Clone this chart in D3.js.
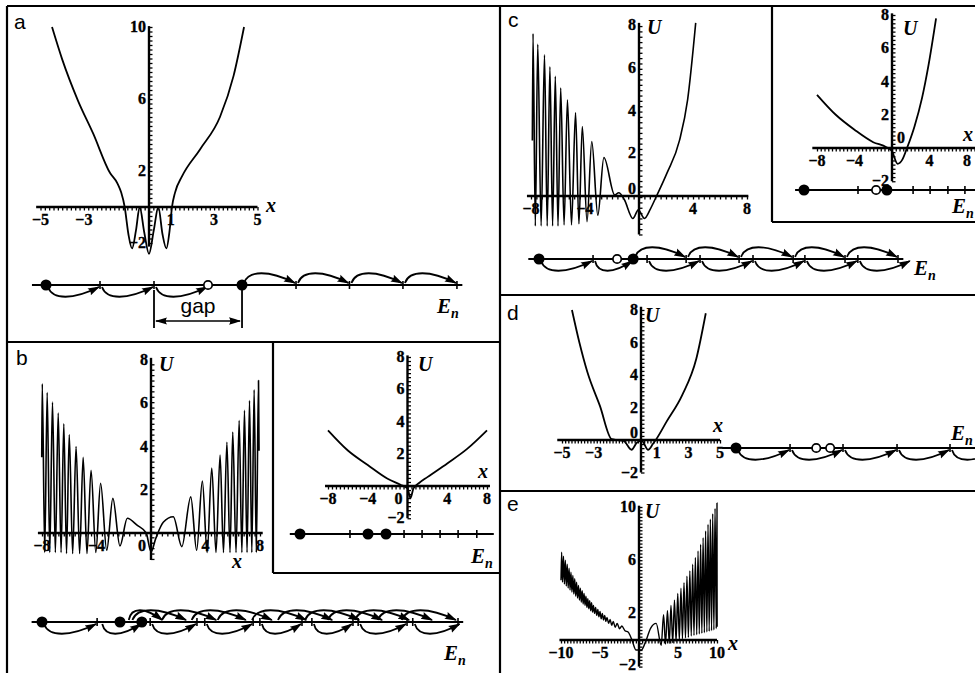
<!DOCTYPE html>
<html><head><meta charset="utf-8">
<script src="https://cdn.jsdelivr.net/npm/d3@7"></script>
<style>
body{margin:0;background:#fff}
svg{display:block;background:#fff}
.tl{font-family:"Liberation Serif","DejaVu Serif",serif;font-weight:bold;font-size:16px;stroke:#000;stroke-width:0.35px}
.var{font-family:"Liberation Serif","DejaVu Serif",serif;font-style:italic;font-weight:bold;font-size:20px}
.pl{font-family:"Liberation Sans",Arial,sans-serif;font-size:21px}
</style></head><body>
<svg id="fig" width="975" height="673"></svg>
<script>
// ---------------- DATA ----------------
// Potential curves U(x): [x, U]
const curveA = [[-4.47,10],[-4.0,8.2],[-3.27,5.9],[-2.58,4.1],[-1.8,1.9],[-1.45,1.3],[-1.28,0.8],[-1.12,0],[-0.95,-1.5],[-0.78,-2.3],[-0.6,-1.3],[-0.43,0],[-0.22,-1.4],[0,-2.6],[0.22,-1.3],[0.43,0],[0.62,-1.5],[0.8,-2.3],[0.95,-1.3],[1.06,0],[1.2,0.8],[1.52,1.7],[2.35,3.2],[3.27,5.0],[3.9,7.3],[4.38,10]];
const curveB = [[-8.02,3.5],[-7.98,6.9],[-7.8,-0.9],[-7.62,6.5],[-7.43,-0.9],[-7.23,6.05],[-7.02,-0.9],[-6.81,5.55],[-6.6,-0.9],[-6.4,5.05],[-6.2,-0.95],[-6.0,4.55],[-5.75,-0.95],[-5.5,4.0],[-5.24,-0.95],[-4.98,3.5],[-4.7,-0.95],[-4.4,2.9],[-4.05,-0.9],[-3.7,2.3],[-3.25,-0.8],[-2.8,1.6],[-2.28,-0.6],[-1.74,0.68],[-1.0,0.35],[-0.35,0.0],[0,-0.87],[0.35,-0.25],[0.9,0.5],[1.64,0.75],[2.26,-0.63],[2.92,1.67],[3.35,-0.8],[3.77,2.4],[4.12,-0.9],[4.46,3.0],[4.77,-0.9],[5.07,3.6],[5.32,-0.9],[5.57,4.2],[5.8,-0.9],[6.0,4.67],[6.24,-0.9],[6.47,5.2],[6.67,-0.9],[6.86,5.67],[7.05,-0.9],[7.23,6.13],[7.4,-0.9],[7.57,6.62],[7.73,-0.9],[7.89,7.05],[7.93,3.8]];
const curveBInset = [[-8,3.45],[-6,2.2],[-4,1.3],[-2,0.45],[-0.7,0.08],[0,-0.15],[0.3,-0.75],[0.6,-0.15],[1.2,0.2],[2,0.55],[4,1.4],[6,2.3],[8,3.45]];
const curveC = [[-7.9,2.6],[-7.85,7.6],[-7.68,-1.4],[-7.5,7.1],[-7.25,-1.4],[-7.0,6.6],[-6.8,-1.4],[-6.6,6.05],[-6.4,-1.4],[-6.2,5.6],[-6.0,-1.4],[-5.8,5.05],[-5.55,-1.35],[-5.3,4.5],[-5.0,-1.35],[-4.7,3.9],[-4.45,-1.3],[-4.2,3.25],[-3.85,-1.2],[-3.5,2.55],[-3.05,-0.9],[-2.6,1.8],[-1.8,0.05],[-1.5,0.15],[-1.1,-0.15],[-0.45,-1.05],[-0.05,-0.65],[0.4,-1.05],[0.85,-0.6],[1.3,0],[2.07,1.07],[3.0,2.6],[3.6,4.5],[4.2,8.1]];
const curveCInset = [[-8,3.2],[-6,2.0],[-4,1.1],[-2,0.35],[-0.6,0.05],[0,-0.2],[0.6,-0.95],[1.1,-0.7],[1.6,0],[2.4,1.3],[3.2,3.0],[3.9,5.0],[4.7,7.8]];
const curveD = [[-4.37,8],[-3.9,6.0],[-3.4,4.2],[-2.6,2.1],[-1.85,0.05],[-1.5,0],[-1.1,-0.05],[-0.6,-0.6],[-0.25,-0.15],[0.05,-0.05],[0.45,-0.6],[0.75,-0.25],[1.0,0.1],[1.6,1.1],[2.6,2.75],[3.5,5.0],[4.1,7.8]];
const curveE = [[-10,4.5],[-9.92,6.6],[-9.8,4.35],[-9.68,6.3],[-9.56,4.2],[-9.44,6.0],[-9.32,4.05],[-9.2,5.7],[-9.08,3.9],[-8.96,5.4],[-8.84,3.75],[-8.72,5.1],[-8.6,3.6],[-8.48,4.85],[-8.36,3.45],[-8.24,4.6],[-8.12,3.3],[-8.0,4.35],[-7.88,3.15],[-7.76,4.1],[-7.64,3.0],[-7.52,3.9],[-7.4,2.85],[-7.28,3.7],[-7.16,2.7],[-7.04,3.5],[-6.92,2.6],[-6.8,3.3],[-6.68,2.45],[-6.56,3.1],[-6.44,2.35],[-6.32,2.95],[-6.2,2.2],[-6.08,2.8],[-5.96,2.1],[-5.84,2.6],[-5.7,2.0],[-5.56,2.45],[-5.42,1.85],[-5.28,2.3],[-5.14,1.75],[-5.0,2.15],[-4.85,1.6],[-4.7,2.0],[-4.55,1.5],[-4.4,1.85],[-4.25,1.4],[-4.1,1.7],[-3.9,1.25],[-3.7,1.55],[-3.5,1.1],[-3.3,1.4],[-3.05,0.95],[-2.8,1.25],[-2.5,0.85],[-2.2,1.05],[-1.8,0.7],[-1.4,0.6],[-0.9,0.0],[-0.4,-0.75],[0.3,-0.75],[0.8,-0.2],[1.5,0.9],[2.2,1.25],[2.85,-0.4],[3.15,1.9],[3.4,-0.3],[3.65,2.2],[3.88,-0.25],[4.1,2.6],[4.32,-0.2],[4.55,3.0],[4.75,-0.1],[4.97,3.5],[5.17,0.0],[5.38,3.9],[5.57,0.1],[5.77,4.3],[5.96,0.15],[6.15,4.8],[6.33,0.2],[6.52,5.2],[6.7,0.3],[6.88,5.7],[7.05,0.35],[7.23,6.2],[7.4,0.4],[7.57,6.7],[7.73,0.45],[7.9,7.2],[8.06,0.5],[8.22,7.7],[8.38,0.55],[8.54,8.2],[8.7,0.6],[8.85,8.7],[9.0,0.65],[9.15,9.1],[9.3,0.7],[9.45,9.5],[9.6,0.75],[9.75,9.9],[9.9,0.85],[10.0,10.3],[10.02,1.0]];

// Tick labels
const aXTicks = [-5,-3,1,3,5], aYTicks = [10,6,2,-2];
const bXTicks = [-8,-4,4,8],   bYTicks = [8,6,4,2];
const biXTicks = [-8,-4,4,8],  biYTicks = [8,6,4,2,-2];
const cXTicks = [-8,-4,4,8],   cYTicks = [8,6,4,2,0];
const ciXTicks = [-8,-4,4,8],  ciYTicks = [8,6,4,2,-2];
const dXTicks = [-5,-3,1,3,5], dYTicks = [8,6,4,2,0,-2];
const eXTicks = [-10,-5,5,10], eYTicks = [10,6,2,-2];

// Energy-level schemes (level units)
const aLevTicks=[1,2,4.63,5.62,6.61,7.61], aFilled=[0,3.63], aOpen=[3];
const aBelow=[[0,1],[1,2],[2,3]], aAbove=[[3.63,4.63],[4.63,5.62],[5.62,6.61],[6.61,7.61]];
const aGap=[2,3.63];
const bLevTicks=[1.06,2.08,2.98,3.13,4.06,4.19,5.0,5.19,5.98,6.08,7.02,7.13,8.0], bFilled=[0,1.5,1.92], bOpen=[];
const bBelow=[[0,1.06],[1.12,1.92],[2.08,2.98],[3.13,4.06],[4.19,5.0],[5.19,5.98],[6.08,7.02],[7.13,8.05]];
const bAbove=[[1.63,2.33],[1.7,2.79],[2.27,3.37],[2.84,3.94],[3.34,4.44],[4.0,5.1],[4.5,5.6],[5.02,6.12],[5.46,6.56],[5.98,7.08],[6.42,7.52],[6.88,7.98]];
const biLevTicks=[1.47,3.06,3.59,4.12,4.65,5.2], biFilled=[0,2.0,2.53], biOpen=[];
const cLevTicks=[1.01,2.02,2.75,3.01,3.74,4.0,4.75,4.97,5.72,5.96,6.71], cFilled=[0,1.76], cOpen=[1.46];
const cBelow=[[0,1.01],[1.01,1.76],[2.02,3.01],[3.01,4.0],[4.0,4.97],[4.97,5.96],[5.96,6.95]];
const cAbove=[[1.76,2.75],[2.75,3.74],[3.74,4.75],[4.75,5.72],[5.72,6.71]];
const ciLevTicks=[2.0,4.04,4.67,5.33,5.96], ciFilled=[0,3.07], ciOpen=[2.67];
const dLevTicks=[1.01,2.0,3.01,4.0], dFilled=[0], dOpen=[1.5,1.76];
const dBelow=[[0,1.01],[1.01,2.0],[2.0,3.01],[3.01,4.0],[4.0,4.9]];

// ---------------- DRAWING ----------------
const svg = d3.select("#fig");
const defs = svg.append("defs");
defs.append("marker").attr("id","ah").attr("viewBox","0 -5 12 10").attr("refX",11).attr("refY",0)
  .attr("markerWidth",12).attr("markerHeight",10).attr("markerUnits","userSpaceOnUse").attr("orient","auto")
  .append("path").attr("d","M0,-3.8 Q6,-2 12,0 Q6,2 0,3.8 Q2.5,0 0,-3.8Z").attr("fill","#000");
defs.append("marker").attr("id","ahs").attr("viewBox","0 -5 12 10").attr("refX",1).attr("refY",0)
  .attr("markerWidth",12).attr("markerHeight",10).attr("markerUnits","userSpaceOnUse").attr("orient","auto")
  .append("path").attr("d","M12,-3.5 Q6,-1.8 0,0 Q6,1.8 12,3.5 Q9.5,0 12,-3.5Z").attr("fill","#000");

const fmt = v => (v < 0 ? "\u2212" + Math.abs(v) : String(v));

function drawPlot(c) {
  const g = svg.append("g");
  const x = d3.scaleLinear().domain(c.xd).range(c.xr);
  const y = d3.scaleLinear().domain(c.yd).range(c.yr);
  const y0 = y(0), x0 = x(0);
  // minor ticks through d3 axes
  g.append("g").attr("transform",`translate(0,${y0})`)
    .call(d3.axisBottom(x).tickValues(d3.range(c.xm[0], c.xm[1]+1e-9, c.xm[2])).tickSize(3.5).tickSizeOuter(0).tickFormat(""))
    .call(s=>{s.select(".domain").remove(); s.selectAll("line").attr("stroke-width",1.3);});
  g.append("g").attr("transform",`translate(${x0},0)`)
    .call(d3.axisRight(y).tickValues(d3.range(c.ym[0], c.ym[1]+1e-9, c.ym[2])).tickSize(3.5).tickSizeOuter(0).tickFormat(""))
    .call(s=>{s.select(".domain").remove(); s.selectAll("line").attr("stroke-width",1.3);});
  // axis lines
  g.append("line").attr("x1",x(c.xl[0])).attr("x2",x(c.xl[1])).attr("y1",y0).attr("y2",y0).attr("stroke","#000").attr("stroke-width",2.4);
  g.append("line").attr("x1",x0).attr("x2",x0).attr("y1",y(c.yl[0])).attr("y2",y(c.yl[1])).attr("stroke","#000").attr("stroke-width",2.4);
  // major tick labels
  g.selectAll(null).data(c.xt).enter().append("text").attr("class","tl")
    .attr("x",d=>x(d)).attr("y",y0+18).attr("text-anchor","middle").text(fmt);
  g.selectAll(null).data(c.yt).enter().append("text").attr("class","tl")
    .attr("x",x0-3).attr("y",d=>Math.min(y(d)+5 + (d===0?-7:0), 670)).attr("text-anchor","end").text(fmt);
  if (c.zeroX) g.append("text").attr("class","tl").attr("x",x0+c.zeroX[0]).attr("y",y0+c.zeroX[1]).attr("text-anchor","middle").text("0");
  // curve
  g.append("path").datum(c.data).attr("fill","none").attr("stroke","#000").attr("stroke-width",c.sw||1.8)
    .attr("stroke-linejoin","round")
    .attr("d", d3.line().x(d=>x(d[0])).y(d=>y(d[1])).curve(d3.curveMonotoneX));
  // variable labels
  if (c.U) g.append("text").attr("class","var").attr("x",c.U[0]).attr("y",c.U[1]).text("U");
  if (c.X) g.append("text").attr("class","var").attr("x",c.X[0]).attr("y",c.X[1]).text("x");
  return {x,y};
}

function drawLevels(c) {
  const g = svg.append("g");
  const e = d3.scaleLinear().domain([0,1]).range([c.x0, c.x0 + c.unit]);
  const y = c.y;
  g.append("line").attr("x1",e(c.line[0])).attr("x2",e(c.line[1])).attr("y1",y).attr("y2",y).attr("stroke","#000").attr("stroke-width",2);
  g.selectAll(null).data(c.ticks).enter().append("line")
    .attr("x1",d=>e(d)).attr("x2",d=>e(d)).attr("y1",y-4).attr("y2",y+4).attr("stroke","#000").attr("stroke-width",1.6);
  const arc = (a,b,s) => {
    const x1=e(a), x2=e(b), w=x2-x1, h=s*15;
    const p = d3.path();
    p.moveTo(x1+2, y+s*2);
    p.bezierCurveTo(x1+0.12*w, y+h, x2-0.5*w, y+h, x2-1, y+s*2);
    return p.toString();
  };
  g.selectAll(null).data(c.below||[]).enter().append("path").attr("d",d=>arc(d[0],d[1],1))
    .attr("fill","none").attr("stroke","#000").attr("stroke-width",1.8).attr("marker-end","url(#ah)");
  g.selectAll(null).data(c.above||[]).enter().append("path").attr("d",d=>arc(d[0],d[1],-1))
    .attr("fill","none").attr("stroke","#000").attr("stroke-width",1.8).attr("marker-end","url(#ah)");
  g.selectAll(null).data(c.filled).enter().append("circle").attr("cx",d=>e(d)).attr("cy",y).attr("r",5.5).attr("fill","#000");
  g.selectAll(null).data(c.open).enter().append("circle").attr("cx",d=>e(d)).attr("cy",y).attr("r",4.2).attr("fill","#fff").attr("stroke","#000").attr("stroke-width",1.7);
  if (c.E) {
    const t = g.append("text").attr("class","var").attr("x",c.E[0]).attr("y",c.E[1]).style("font-size","21px");
    t.append("tspan").text("E");
    t.append("tspan").attr("dy",5).style("font-size","14px").text("n");
  }
  return e;
}

// Panel frames
const frame = [[7,6,975,6],[7,6,7,673],[500,6,500,673],[7,342,500,342],[500,295,975,295],[500,491,975,491],
               [273,342,273,573],[273,573,500,573],[772,6,772,222],[772,222,975,222]];
svg.selectAll(null).data(frame).enter().append("line")
  .attr("x1",d=>d[0]).attr("y1",d=>d[1]).attr("x2",d=>d[2]).attr("y2",d=>d[3]).attr("stroke","#000").attr("stroke-width",2.2);

// Panel letters
[["a",14,29],["b",16,365],["c",508,27],["d",507,320],["e",507,511]].forEach(d=>{
  svg.append("text").attr("class","pl").attr("x",d[1]).attr("y",d[2]).text(d[0]);
});

// ---- Panel a ----
drawPlot({data:curveA, xd:[-5,5], xr:[40.5,257.5], yd:[0,10], yr:[207,27],
  xm:[-5,5,0.2], ym:[-2,10,0.25], xl:[-5.2,5.0], yl:[-2.2,10.05],
  xt:aXTicks, yt:aYTicks, X:[266,212]});
const eA = drawLevels({x0:46, unit:54, y:285, line:[-0.26,7.71], ticks:aLevTicks, filled:aFilled, open:aOpen,
  below:aBelow, above:aAbove, E:[437,313]});
// gap bracket
{
  const g = svg.append("g");
  g.selectAll(null).data(aGap).enter().append("line").attr("x1",d=>eA(d)).attr("x2",d=>eA(d)).attr("y1",290).attr("y2",328)
    .attr("stroke","#000").attr("stroke-width",1.8);
  g.append("line").attr("x1",eA(aGap[0])+2).attr("x2",eA(aGap[1])-2).attr("y1",321).attr("y2",321)
    .attr("stroke","#000").attr("stroke-width",1.6).attr("marker-end","url(#ah)").attr("marker-start","url(#ahs)");
  g.append("text").attr("class","pl").attr("x",(eA(aGap[0])+eA(aGap[1]))/2).attr("y",313).attr("text-anchor","middle").text("gap");
}

// ---- Panel b ----
drawPlot({data:curveB, xd:[-8,8], xr:[42,260], yd:[0,8], yr:[533,360], sw:1.6,
  xm:[-8,8,0.4], ym:[-1.2,8,0.25], xl:[-8.3,8.2], yl:[-1.25,8.1],
  xt:bXTicks, yt:bYTicks, zeroX:[-9,18], U:[159,371], X:[232,568]});
drawLevels({x0:42, unit:52, y:622, line:[-0.2,8.1], ticks:bLevTicks, filled:bFilled, open:bOpen,
  below:bBelow, above:bAbove, E:[444,660]});
// inset b
drawPlot({data:curveBInset, xd:[-8,8], xr:[328,487], yd:[0,8], yr:[486,357],
  xm:[-8,8,0.4], ym:[-2,8,0.25], xl:[-8.3,8.3], yl:[-2,8.1],
  xt:biXTicks, yt:biYTicks, zeroX:[-9,18], U:[418,371], X:[478,478]});
drawLevels({x0:300, unit:34, y:534, line:[-0.3,5.7], ticks:biLevTicks, filled:biFilled, open:biOpen, E:[471,563]});

// ---- Panel c ----
drawPlot({data:curveC, xd:[-8,8], xr:[531,747], yd:[0,8], yr:[196,25], sw:1.6,
  xm:[-8,8,0.4], ym:[-1.8,8,0.25], xl:[-8.3,8.1], yl:[-1.8,8.1],
  xt:cXTicks, yt:cYTicks, U:[647,34]});
drawLevels({x0:539, unit:53.5, y:259, line:[-0.2,6.81], ticks:cLevTicks, filled:cFilled, open:cOpen,
  below:cBelow, above:cAbove, E:[914,275]});
// inset c
drawPlot({data:curveCInset, xd:[-8,8], xr:[817,967], yd:[0,8], yr:[148,15],
  xm:[-8,9,0.4], ym:[-2,8,0.25], xl:[-8.5,9.5], yl:[-2,8.1],
  xt:ciXTicks, yt:ciYTicks, zeroX:[9,-5], U:[903,35], X:[963,141]});
drawLevels({x0:804, unit:27, y:190, line:[-0.33,6.8], ticks:ciLevTicks, filled:ciFilled, open:ciOpen, E:[952,213]});

// ---- Panel d ----
drawPlot({data:curveD, xd:[-5,5], xr:[562,720], yd:[0,8], yr:[440,310],
  xm:[-5,5,0.2], ym:[-2,8,0.25], xl:[-5.3,5.0], yl:[-2,8.2],
  xt:dXTicks, yt:dYTicks, U:[645,322], X:[713,432]});
drawLevels({x0:736, unit:53.5, y:448, line:[-0.26,4.7], ticks:dLevTicks, filled:dFilled, open:dOpen,
  below:dBelow, E:[951,440]});

// ---- Panel e ----
drawPlot({data:curveE, xd:[-10,10], xr:[561,717], yd:[0,10], yr:[640,507], sw:1.4,
  xm:[-10,10,0.4], ym:[-2,10,0.25], xl:[-10.2,10.0], yl:[-2,10.1],
  xt:eXTicks, yt:eYTicks, U:[645,518], X:[728,650]});
</script>
</body></html>
